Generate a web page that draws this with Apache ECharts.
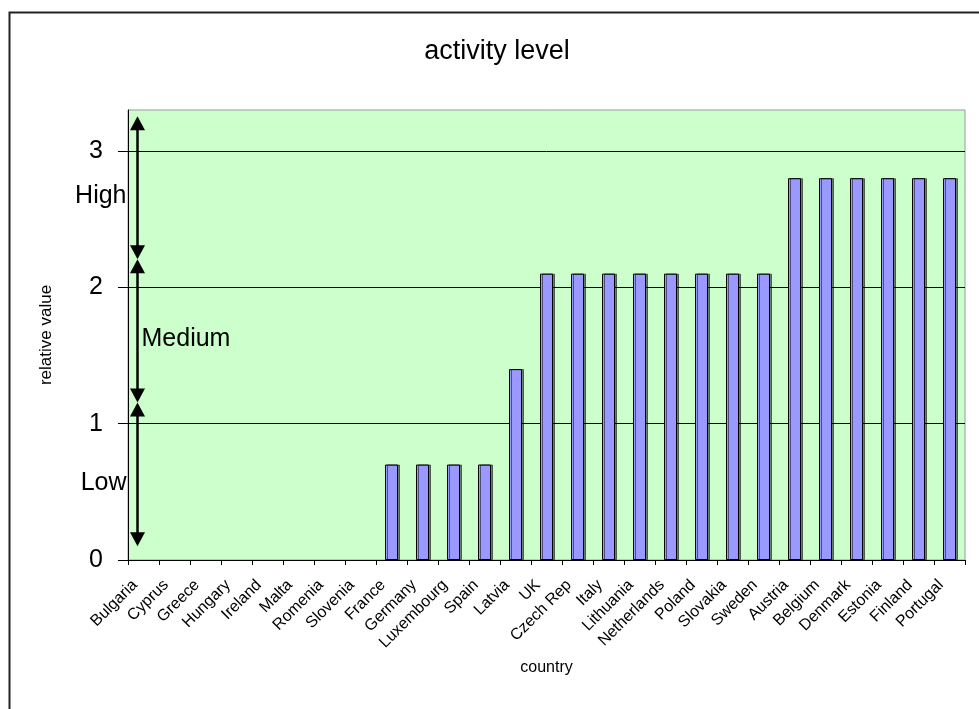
<!DOCTYPE html>
<html>
<head>
<meta charset="utf-8">
<script src="https://cdn.jsdelivr.net/npm/echarts@6/dist/echarts.min.js"></script>
<style>
  html, body { margin: 0; padding: 0; background: #fff; }
  #chart { width: 979px; height: 709px; }
</style>
</head>
<body>
<div id="chart"></div>
<script>
// Countries along the category axis
const countries = ['Bulgaria', 'Cyprus', 'Greece', 'Hungary', 'Ireland', 'Malta', 'Romenia', 'Slovenia',
  'France', 'Germany', 'Luxembourg', 'Spain', 'Latvia', 'UK', 'Czech Rep', 'Italy', 'Lithuania',
  'Netherlands', 'Poland', 'Slovakia', 'Sweden', 'Austria', 'Belgium', 'Denmark', 'Estonia',
  'Finland', 'Portugal'];

// Relative activity value per country
const activity = [0, 0, 0, 0, 0, 0, 0, 0,
  0.7, 0.7, 0.7, 0.7, 1.4,
  2.1, 2.1, 2.1, 2.1, 2.1, 2.1, 2.1, 2.1,
  2.8, 2.8, 2.8, 2.8, 2.8, 2.8];

// Y axis tick values
const yTicks = [0, 1, 2, 3];

// Level bands: name, lower and upper end of the double arrow, label height
const levelNames = ['Low', 'Medium', 'High'];
const levelFrom = [0.1, 1.155, 2.205];
const levelTo = [1.155, 2.205, 3.255];
const levelLabelAt = [0.565, 1.62, 2.67];

const FONT = '"Liberation Sans", Arial, sans-serif';

const chart = echarts.init(document.getElementById('chart'), null, { renderer: 'canvas' });

// Double-headed arrow with its level name beside it
function renderLevel(params, api) {
  const i = api.value(0);
  const top = api.coord([0, levelTo[i]]);
  const bottom = api.coord([0, levelFrom[i]]);
  const x = top[0] - 6;
  const y1 = top[1];
  const y2 = bottom[1];
  const hw = 7.5, hh = 14;
  const labelPt = api.coord([0, levelLabelAt[i]]);
  const leftSide = levelNames[i] !== 'Medium';
  return {
    type: 'group',
    children: [
      { type: 'line', shape: { x1: x, y1: y1 + hh - 1, x2: x, y2: y2 - hh + 1 },
        style: { stroke: '#000', lineWidth: 2.5 } },
      { type: 'polygon', shape: { points: [[x, y1], [x - hw, y1 + hh], [x + hw, y1 + hh]] },
        style: { fill: '#000' } },
      { type: 'polygon', shape: { points: [[x, y2], [x - hw, y2 - hh], [x + hw, y2 - hh]] },
        style: { fill: '#000' } },
      { type: 'text', x: leftSide ? x - 11 : x + 4, y: labelPt[1],
        style: { text: levelNames[i], fill: '#000', font: '25px ' + FONT,
          align: leftSide ? 'right' : 'left', verticalAlign: 'middle' } }
    ]
  };
}

// Empty countries get no visible bar outline
const barData = activity.map(v => v === 0
  ? { value: v, itemStyle: { opacity: 0 } }
  : v);

chart.setOption({
  animation: false,
  backgroundColor: '#fff',
  title: {
    text: 'activity level',
    left: 492, top: 33, textAlign: 'center',
    textStyle: { fontFamily: FONT, fontSize: 27, fontWeight: 'normal', color: '#000' }
  },
  graphic: [{
    type: 'rect', left: 7, top: 10, silent: true,
    shape: { width: 1000, height: 1000 },
    style: { fill: 'none', stroke: '#222', lineWidth: 2 }
  }],
  grid: {
    left: 128, right: 14, top: 110, bottom: 149,
    show: true, backgroundColor: '#CCFFCC', borderColor: '#999', borderWidth: 1
  },
  xAxis: {
    type: 'category',
    data: countries,
    name: 'country',
    nameLocation: 'middle',
    nameGap: 100,
    nameTextStyle: { fontFamily: FONT, fontSize: 16, color: '#000' },
    axisLine: { lineStyle: { color: '#000', width: 1 } },
    axisTick: { show: true, length: 5, lineStyle: { color: '#000' } },
    axisLabel: { interval: 0, rotate: 45, margin: 14, padding: [0, 12, 0, 0],
      fontFamily: FONT, fontSize: 16, color: '#000' },
    splitLine: { show: false }
  },
  yAxis: {
    type: 'value',
    min: 0, max: 3.3, interval: 1,
    name: 'relative value',
    nameLocation: 'middle',
    nameGap: 73,
    nameTextStyle: { fontFamily: FONT, fontSize: 17, color: '#000' },
    axisLine: { show: true, lineStyle: { color: '#000', width: 1 } },
    axisTick: { show: true, length: 10, customValues: yTicks, lineStyle: { color: '#000' } },
    axisLabel: { customValues: yTicks, margin: 25, fontFamily: FONT, fontSize: 25, color: '#000' },
    splitLine: { show: true, lineStyle: { color: '#000', width: 1 } }
  },
  series: [
    {
      type: 'bar',
      data: barData,
      barWidth: 13,
      itemStyle: {
        color: '#9999FF', borderColor: '#000', borderWidth: 1,
        shadowColor: 'rgba(0,0,0,0.5)', shadowOffsetX: 2, shadowOffsetY: 0, shadowBlur: 0
      }
    },
    {
      type: 'custom',
      renderItem: renderLevel,
      data: levelNames.map((n, i) => [i]),
      encode: { x: -1, y: -1 },
      clip: false,
      z: 5
    }
  ]
});
</script>
</body>
</html>
